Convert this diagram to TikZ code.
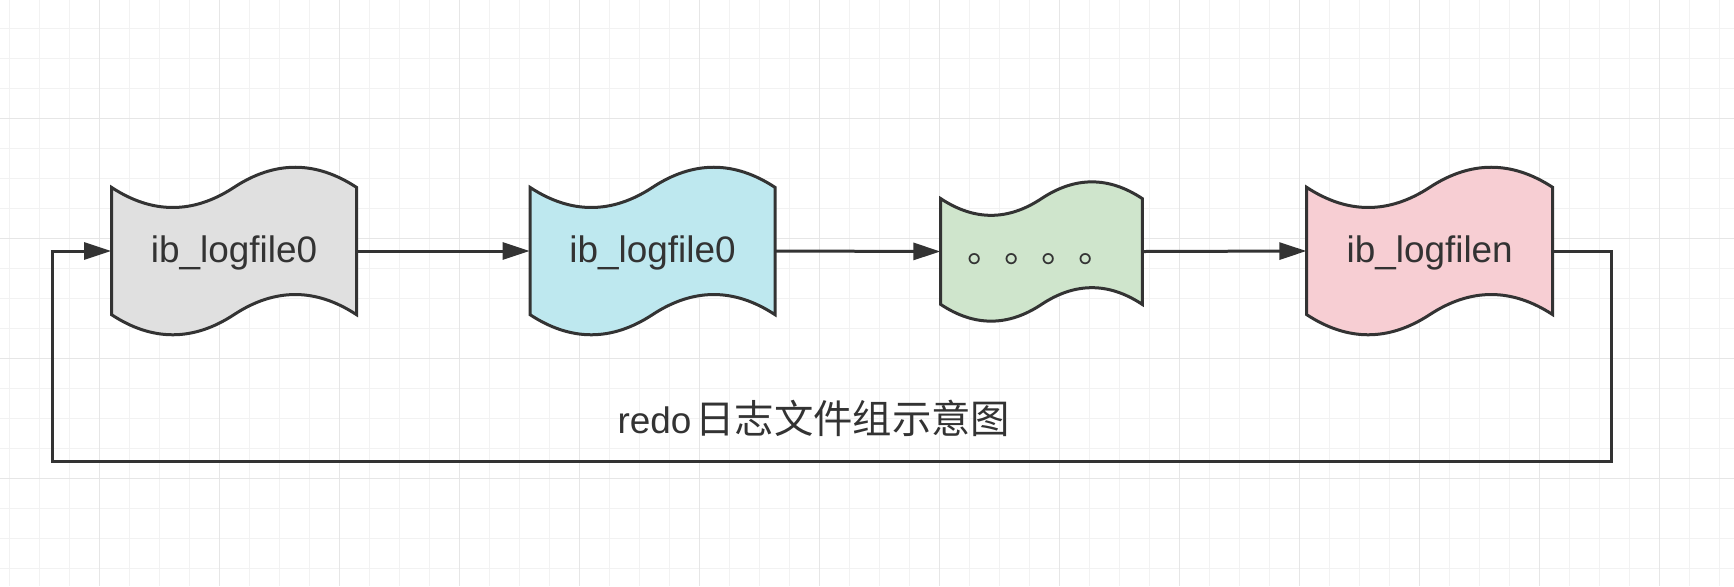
\documentclass[tikz,border=0pt]{standalone}
\usepackage{fontspec}
\setmainfont{Liberation Sans}
\newfontfamily\cjkfont{Noto Sans CJK SC}
\usetikzlibrary{arrows.meta}

\definecolor{inkgray}{HTML}{333333}
\definecolor{gridminor}{HTML}{F2F2F2}
\definecolor{gridmajor}{HTML}{E6E6E6}
\definecolor{filegray}{HTML}{E0E0E0}
\definecolor{fileblue}{HTML}{BEE8EF}
\definecolor{filegreen}{HTML}{CFE5CC}
\definecolor{filepink}{HTML}{F7CED3}

\tikzset{
  tapeline/.style={draw=inkgray, line width=0.06cm},
  tapetext/.style={inner sep=0pt, text=inkgray, font=\fontsize{21}{25}\selectfont,
    text height=15.75pt, text depth=3.15pt},
  flow/.style={draw=inkgray, line width=0.06cm, -{Triangle[length=0.54cm,width=0.34cm]}}
}

% tape: centre x, centre y, width, height, fill, name, text
\newcommand{\drawtape}[7]{%
  \pgfmathsetmacro\tpD{0.26*#4}%
  \pgfmathsetmacro\tpL{#1-#3/2}%
  \pgfmathsetmacro\tpR{#1+#3/2}%
  \pgfmathsetmacro\tpA{#1-#3/3}%
  \pgfmathsetmacro\tpB{#1-#3/6}%
  \pgfmathsetmacro\tpE{#1+#3/6}%
  \pgfmathsetmacro\tpF{#1+#3/3}%
  \pgfmathsetmacro\tpT{#2-#4/2+\tpD/2}%
  \pgfmathsetmacro\tpTl{#2-#4/2+1.1*\tpD}%
  \pgfmathsetmacro\tpTh{#2-#4/2-0.1*\tpD}%
  \pgfmathsetmacro\tpS{#2+#4/2-\tpD/2}%
  \pgfmathsetmacro\tpSh{#2+#4/2-1.1*\tpD}%
  \pgfmathsetmacro\tpSl{#2+#4/2+0.1*\tpD}%
  \filldraw[tapeline, fill=#5] (\tpL,\tpT)
    .. controls (\tpA,\tpTl) and (\tpB,\tpTl) .. (#1,\tpT)
    .. controls (\tpE,\tpTh) and (\tpF,\tpTh) .. (\tpR,\tpT)
    -- (\tpR,\tpS)
    .. controls (\tpF,\tpSh) and (\tpE,\tpSh) .. (#1,\tpS)
    .. controls (\tpB,\tpSl) and (\tpA,\tpSl) .. (\tpL,\tpS) -- cycle;
  \node[tapetext, minimum width=#3*0.02cm, minimum height=#4*0.02cm] (#6) at (#1,#2) {#7};
}

\begin{document}
\begin{tikzpicture}[x=0.02cm, y=-0.02cm]
  \useasboundingbox (0,0) rectangle (1734,586);
  \fill[white] (0,0) rectangle (1734,586);

  \foreach \gx in {9.3,39.3,...,1734} \draw[gridminor, line width=0.02cm] (\gx,0) -- (\gx,586);
  \foreach \gy in {-1.7,28.3,...,586} \draw[gridminor, line width=0.02cm] (0,\gy) -- (1734,\gy);
  \foreach \gx in {99.3,219.3,...,1734} \draw[gridmajor, line width=0.03cm] (\gx,0) -- (\gx,586);
  \foreach \gy in {118.3,238.3,...,586} \draw[gridmajor, line width=0.03cm] (0,\gy) -- (1734,\gy);

  \drawtape{234}{251}{245}{172}{filegray}{log0}{ib\_logfile0}
  \drawtape{652.5}{251}{245}{172}{fileblue}{log1}{ib\_logfile0}
  \drawtape{1041.5}{251.5}{201.6}{143}{filegreen}{logdots}{\cjkfont 。。。。}
  \drawtape{1429.7}{251}{246}{172}{filepink}{logn}{ib\_logfilen}

  \draw[flow] (log0.east) -- (log1.west);
  \draw[flow] (log1.east) -- (logdots.west);
  \draw[flow] (logdots.east) -- (logn.west);

  \coordinate (backr) at (1611.7,461.7);
  \coordinate (backl) at (52.3,461.7);
  \draw[flow] (logn.east) -| (backr) -- (backl) |- (log0.west);

  \node[text=inkgray, font=\fontsize{21}{25}\selectfont] (caption) at (814,418)
    {redo\hspace{0.08cm}{\cjkfont\fontsize{22.4}{26}\selectfont 日志文件组示意图}};
\end{tikzpicture}
\end{document}
